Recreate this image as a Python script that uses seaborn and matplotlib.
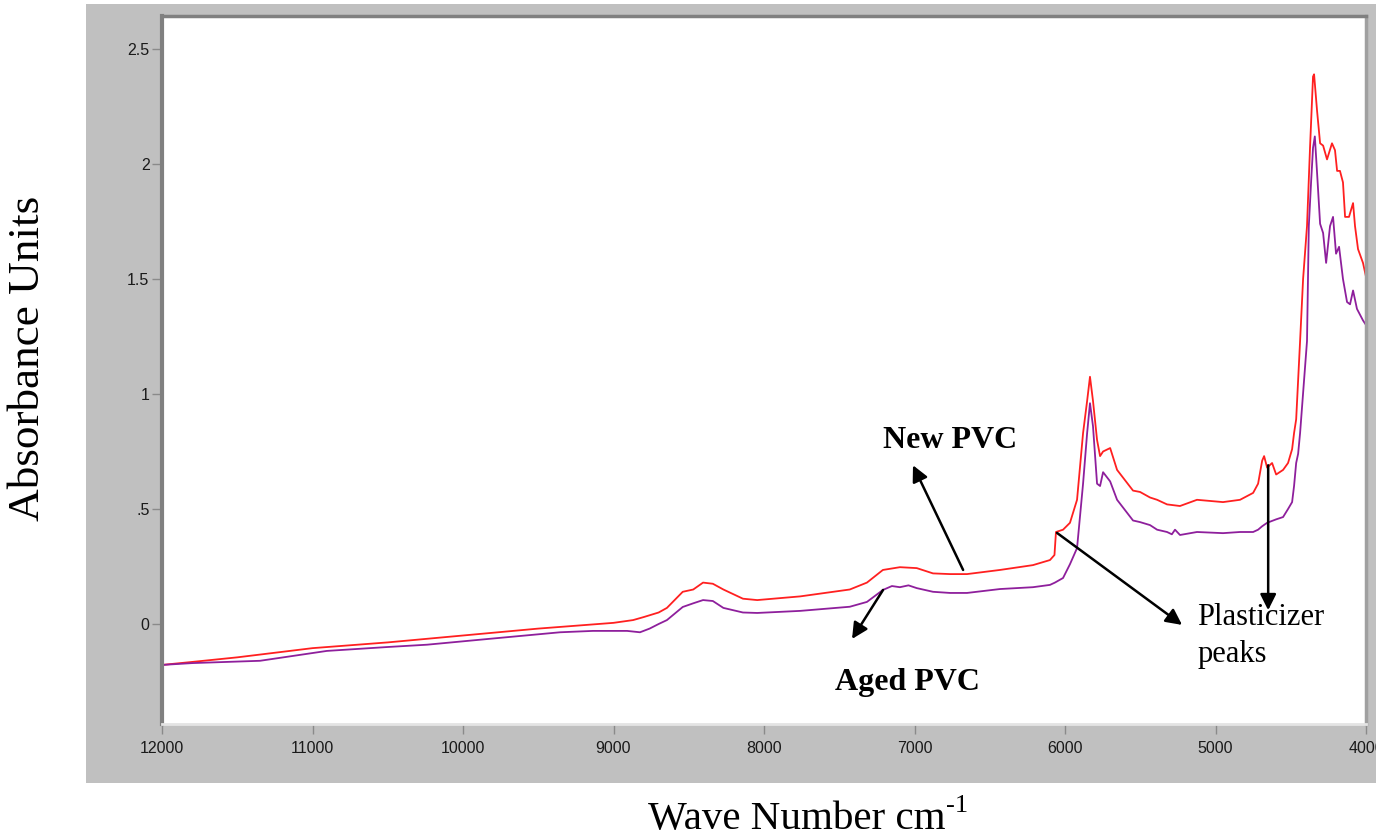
import numpy as np
import pandas as pd
import matplotlib
matplotlib.use("Agg")
import matplotlib.pyplot as plt
from matplotlib.patches import Rectangle
import seaborn as sns

# ---------------- data ----------------
new_wn = [12000, 11800, 11500, 11000, 10800, 10500, 10000, 9500, 9000, 8870, 8800, 8700,
          8645, 8540, 8470, 8405, 8340, 8270, 8140, 8045, 7760, 7430, 7316, 7210, 7097,
          6985, 6877, 6764, 6651, 6432, 6213, 6100, 6070, 6060, 6013, 5967, 5920, 5880,
          5853, 5834, 5814, 5787, 5767, 5747, 5700, 5654, 5548, 5501, 5435, 5388, 5322,
          5236, 5123, 4950, 4837, 4750, 4717, 4690, 4677, 4657, 4624, 4597, 4551, 4518,
          4491, 4478, 4464, 4438, 4418, 4392, 4372, 4352, 4345, 4325, 4305, 4285, 4259,
          4226, 4206, 4192, 4173, 4153, 4139, 4113, 4086, 4073, 4053, 4020, 4000]
new_abs = [-0.178, -0.165, -0.145, -0.105, -0.095, -0.080, -0.050, -0.020, 0.005, 0.017,
           0.030, 0.050, 0.070, 0.140, 0.150, 0.180, 0.175, 0.150, 0.110, 0.104, 0.120,
           0.150, 0.180, 0.235, 0.247, 0.243, 0.220, 0.217, 0.217, 0.235, 0.256, 0.278,
           0.300, 0.400, 0.410, 0.440, 0.540, 0.830, 0.970, 1.075, 0.970, 0.800, 0.730,
           0.750, 0.765, 0.670, 0.580, 0.574, 0.550, 0.540, 0.520, 0.513, 0.540, 0.530,
           0.540, 0.570, 0.610, 0.710, 0.730, 0.680, 0.700, 0.650, 0.670, 0.700, 0.760,
           0.830, 0.890, 1.230, 1.500, 1.730, 2.070, 2.380, 2.390, 2.230, 2.090, 2.080,
           2.020, 2.090, 2.060, 1.970, 1.970, 1.920, 1.770, 1.770, 1.830, 1.730, 1.630,
           1.570, 1.510]

aged_wn = [12000, 11800, 11349, 10904, 10500, 10239, 9800, 9355, 9136, 8910, 8824, 8760,
           8700, 8645, 8540, 8470, 8405, 8340, 8270, 8140, 8045, 7760, 7430, 7316, 7210,
           7150, 7097, 7040, 6985, 6877, 6764, 6651, 6432, 6213, 6100, 6067, 6013, 5967,
           5920, 5880, 5853, 5834, 5814, 5787, 5767, 5747, 5700, 5654, 5548, 5501, 5435,
           5388, 5322, 5290, 5269, 5236, 5123, 4950, 4837, 4750, 4717, 4690, 4657, 4597,
           4551, 4518, 4491, 4478, 4464, 4451, 4438, 4392, 4380, 4365, 4352, 4340, 4325,
           4305, 4285, 4265, 4239, 4219, 4199, 4179, 4153, 4126, 4106, 4086, 4060, 4020, 4000]
aged_abs = [-0.178, -0.170, -0.160, -0.117, -0.100, -0.090, -0.063, -0.036, -0.030, -0.030,
            -0.036, -0.020, 0.000, 0.017, 0.074, 0.090, 0.104, 0.100, 0.070, 0.050, 0.048,
            0.057, 0.075, 0.096, 0.148, 0.165, 0.160, 0.168, 0.156, 0.140, 0.135, 0.135,
            0.152, 0.160, 0.170, 0.180, 0.200, 0.260, 0.330, 0.610, 0.830, 0.960, 0.860,
            0.610, 0.600, 0.660, 0.620, 0.540, 0.450, 0.443, 0.430, 0.410, 0.400, 0.390,
            0.410, 0.387, 0.400, 0.395, 0.400, 0.400, 0.410, 0.425, 0.440, 0.455, 0.465,
            0.500, 0.530, 0.600, 0.700, 0.740, 0.830, 1.230, 1.730, 1.920, 2.070, 2.120,
            1.960, 1.740, 1.700, 1.570, 1.730, 1.770, 1.610, 1.640, 1.500, 1.400, 1.390,
            1.450, 1.370, 1.320, 1.300]

y_ticks = [0, 0.5, 1, 1.5, 2, 2.5]
y_tick_labels = ["0", ".5", "1", "1.5", "2", "2.5"]
x_ticks = [12000, 11000, 10000, 9000, 8000, 7000, 6000, 5000, 4000]
x_tick_labels = ["12000", "11000", "10000", "9000", "8000", "7000", "6000", "5000", "4000"]
series_names = ["New PVC", "Aged PVC"]

# ---------------- build data frame ----------------
df = pd.concat([
    pd.DataFrame({"wn": new_wn, "abs": new_abs, "sample": series_names[0]}),
    pd.DataFrame({"wn": aged_wn, "abs": aged_abs, "sample": series_names[1]}),
], ignore_index=True)

sns.set_style("white")
plt.rcParams["font.family"] = ["Liberation Sans", "DejaVu Sans"]
plt.rcParams["text.color"] = "black"

W, H = 1376, 838
fig = plt.figure(figsize=(W / 100, H / 100), dpi=100, facecolor="white")

# grey panel behind the plot
fig.patches.append(Rectangle((86 / W, 1 - 783 / H), 1.0, (783 - 4) / H,
                             transform=fig.transFigure, facecolor="#C0C0C0",
                             edgecolor="none", zorder=-10))

ax = fig.add_axes([162 / W, 1 - 724 / H, (1366 - 162) / W, (724 - 16) / H])
ax.set_zorder(1)
ax.set_facecolor("white")

sns.lineplot(data=df, x="wn", y="abs", hue="sample", estimator=None,
             palette={"New PVC": "#FF2020", "Aged PVC": "#8E1F9C"},
             linewidth=1.3, legend=False, ax=ax)

ax.set_xlim(12000, 4000)
ax.set_ylim(-0.4348, 2.6435)
ax.set_xticks(x_ticks)
ax.set_xticklabels(x_tick_labels)
ax.set_yticks(y_ticks)
ax.set_yticklabels(y_tick_labels)
ax.set_xlabel("")
ax.set_ylabel("")

for lab in ax.get_xticklabels() + ax.get_yticklabels():
    lab.set_fontfamily(["Liberation Sans", "DejaVu Sans"])
ax.tick_params(axis="y", direction="out", length=7, width=1, color="#8A8A8A",
               pad=2, labelsize=11.5, labelcolor="#1A1A1A", left=True)
ax.tick_params(axis="x", direction="out", length=7, width=1, color="#8A8A8A",
               pad=5, labelsize=11.5, labelcolor="#1A1A1A", bottom=True)

ax.spines["left"].set_color("#808080")
ax.spines["left"].set_linewidth(3)
ax.spines["top"].set_color("#808080")
ax.spines["top"].set_linewidth(2.5)
ax.spines["bottom"].set_color("#E4E4E4")
ax.spines["bottom"].set_linewidth(2)
ax.spines["right"].set_color("#A0A0A0")
ax.spines["right"].set_linewidth(2.5)

# ---------------- annotations ----------------
serif = ["Liberation Serif", "DejaVu Serif"]
arrow_kw = dict(arrowstyle="-|>", mutation_scale=24, lw=1.8, color="black",
                shrinkA=0, shrinkB=0)

ax.annotate("", xy=(7010, 0.69), xytext=(6677, 0.235), arrowprops=arrow_kw)
ax.annotate("", xy=(7415, -0.065), xytext=(7209, 0.148), arrowprops=arrow_kw)
ax.annotate("", xy=(5222, -0.004), xytext=(6053, 0.396), arrowprops=arrow_kw)
ax.annotate("", xy=(4650, 0.06), xytext=(4650, 0.69), arrowprops=arrow_kw)

ax.text(6764, 0.765, "New PVC", family=serif, fontsize=23, fontweight="bold",
        ha="center", va="baseline", color="black")
ax.text(7049, -0.287, "Aged PVC", family=serif, fontsize=23, fontweight="bold",
        ha="center", va="baseline", color="black")
ax.text(5122, -0.004, "Plasticizer", family=serif, fontsize=22,
        ha="left", va="baseline", color="black")
ax.text(5122, -0.165, "peaks", family=serif, fontsize=22,
        ha="left", va="baseline", color="black")

# ---------------- axis titles ----------------
fig.text(28 / W, 1 - 358 / H, "Absorbance Units", family=serif, fontsize=32.5,
         rotation=90, ha="center", va="center", color="black")

xl = fig.text(648 / W, 1 - 829 / H, "Wave Number cm", family=serif, fontsize=29.5,
              ha="left", va="baseline", color="black")
fig.canvas.draw()
bb = xl.get_window_extent(renderer=fig.canvas.get_renderer())
fig.text(bb.x1 / W + 1 / W, 1 - 812 / H, "-1", family=serif, fontsize=19,
         ha="left", va="baseline", color="black")

fig.savefig("out.png", dpi=100, facecolor="white")
